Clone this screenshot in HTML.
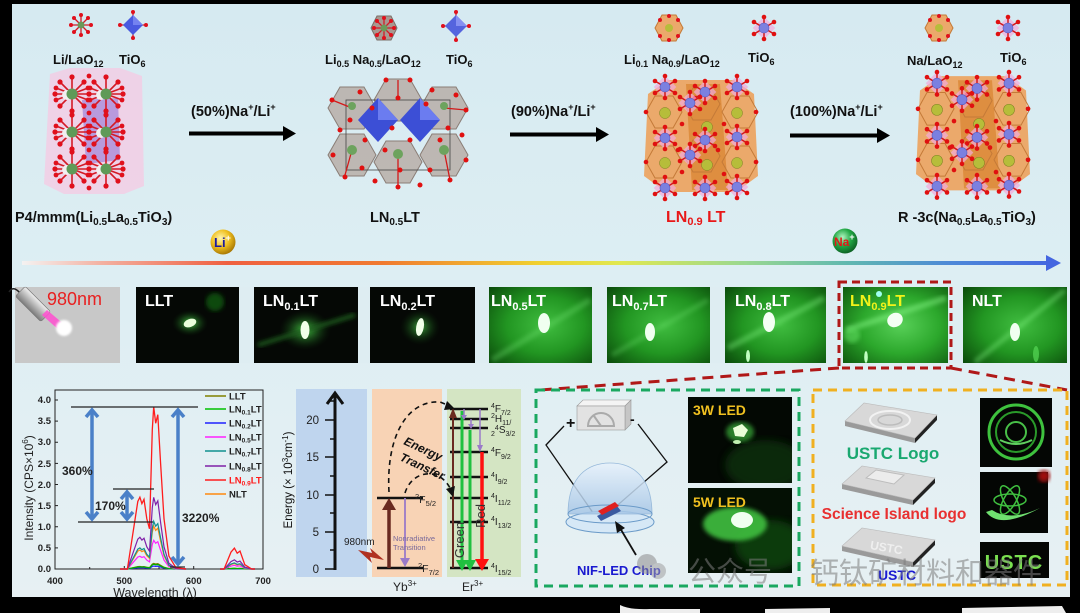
<!DOCTYPE html>
<html><head><meta charset="utf-8"><style>
html,body{margin:0;padding:0;background:#000;}
svg{display:block}
text{font-family:"Liberation Sans","Noto Sans CJK SC",sans-serif;}
.b{font-weight:bold}
</style></head><body>
<svg width="1080" height="613" viewBox="0 0 1080 613" xmlns="http://www.w3.org/2000/svg">
<defs>
 <linearGradient id="bg" x1="0" y1="0" x2="0" y2="1">
   <stop offset="0" stop-color="#d6eaf1"/>
   <stop offset="0.45" stop-color="#ddeef3"/>
   <stop offset="1" stop-color="#e7f0f3"/>
 </linearGradient>
 <linearGradient id="rainbow" x1="20" y1="0" x2="1055" y2="0" gradientUnits="userSpaceOnUse">
   <stop offset="0" stop-color="#f4f4f4"/>
   <stop offset="0.08" stop-color="#f3b0a0"/>
   <stop offset="0.2" stop-color="#ef6040"/>
   <stop offset="0.35" stop-color="#f07a30"/>
   <stop offset="0.5" stop-color="#f0d030"/>
   <stop offset="0.58" stop-color="#e0e850"/>
   <stop offset="0.7" stop-color="#9ad890"/>
   <stop offset="0.8" stop-color="#60b8b0"/>
   <stop offset="0.9" stop-color="#4d88d8"/>
   <stop offset="1" stop-color="#4466e0"/>
 </linearGradient>
 <radialGradient id="gold" cx="0.4" cy="0.35" r="0.7">
   <stop offset="0" stop-color="#fff6b0"/><stop offset="0.5" stop-color="#f0c020"/><stop offset="1" stop-color="#a07000"/>
 </radialGradient>
 <radialGradient id="grn" cx="0.4" cy="0.35" r="0.7">
   <stop offset="0" stop-color="#b0f5c0"/><stop offset="0.5" stop-color="#22a845"/><stop offset="1" stop-color="#0a5a20"/>
 </radialGradient>
 <radialGradient id="gtile" cx="0.55" cy="0.5" r="0.75">
   <stop offset="0" stop-color="#40bd40"/><stop offset="0.5" stop-color="#229622"/><stop offset="1" stop-color="#0a480a"/>
 </radialGradient>
 <radialGradient id="gtile2" cx="0.55" cy="0.5" r="0.75">
   <stop offset="0" stop-color="#58d058"/><stop offset="0.5" stop-color="#2ca82c"/><stop offset="1" stop-color="#0e580e"/>
 </radialGradient>
 <radialGradient id="glow" cx="0.5" cy="0.5" r="0.5">
   <stop offset="0" stop-color="#50e050" stop-opacity="0.9"/><stop offset="1" stop-color="#0a300a" stop-opacity="0"/>
 </radialGradient>
 <linearGradient id="pen" x1="0" y1="0" x2="0" y2="1">
   <stop offset="0" stop-color="#f0f0f0"/><stop offset="1" stop-color="#7a7a7a"/>
 </linearGradient>
 <linearGradient id="dome" x1="0" y1="0" x2="0" y2="1">
   <stop offset="0" stop-color="#e8f2fc"/><stop offset="1" stop-color="#a6c6e6"/>
 </linearGradient>
 <filter id="bl1"><feGaussianBlur stdDeviation="1"/></filter>
 <filter id="bl2"><feGaussianBlur stdDeviation="2"/></filter>
 <filter id="bl4"><feGaussianBlur stdDeviation="4"/></filter>
 <clipPath id="c3w"><rect x="688" y="397" width="104" height="86"/></clipPath>
 <clipPath id="c5w"><rect x="688" y="488" width="104" height="85"/></clipPath>
 <clipPath id="ctiles"><rect x="136" y="287" width="931" height="76"/></clipPath>
 <g id="ti">
   <rect x="-8" y="-8" width="16" height="16" transform="rotate(45)" fill="#f3a9dc" opacity="0.7"/>
   <g stroke="#d21a1a" stroke-width="1.5"><line x1="-10" y1="-6" x2="10" y2="6"/><line x1="-10" y1="6" x2="10" y2="-6"/><line x1="0" y1="-11" x2="0" y2="11"/></g>
   <g fill="#e01010"><circle cx="-10" cy="-6" r="2.3"/><circle cx="10" cy="6" r="2.3"/><circle cx="-10" cy="6" r="2.3"/><circle cx="10" cy="-6" r="2.3"/><circle cx="0" cy="-11" r="2.3"/><circle cx="0" cy="11" r="2.3"/></g>
   <circle r="5" fill="#7b80e0" stroke="#5a5ec0" stroke-width="0.6"/>
 </g>
 <g id="star">
   <g stroke="#d41a26" stroke-width="1.3"><line x1="-10" y1="0" x2="10" y2="0"/><line x1="0" y1="-10" x2="0" y2="10"/><line x1="-7" y1="-7" x2="7" y2="7"/><line x1="-7" y1="7" x2="7" y2="-7"/></g>
   <g fill="#e0101c"><circle cx="-10" cy="0" r="2"/><circle cx="10" cy="0" r="2"/><circle cx="0" cy="-10" r="2"/><circle cx="0" cy="10" r="2"/><circle cx="-7" cy="-7" r="2"/><circle cx="7" cy="7" r="2"/><circle cx="-7" cy="7" r="2"/><circle cx="7" cy="-7" r="2"/></g>
   <circle r="3.5" fill="#6a9a5a"/>
 </g>
 <g id="bigstar">
   <g stroke="#d41a26" stroke-width="1.6"><line x1="-17" y1="0" x2="17" y2="0"/><line x1="0" y1="-17" x2="0" y2="17"/><line x1="-12" y1="-12" x2="12" y2="12"/><line x1="-12" y1="12" x2="12" y2="-12"/><line x1="-16" y1="-6" x2="16" y2="6"/><line x1="-16" y1="6" x2="16" y2="-6"/></g>
   <g fill="#e0101c"><circle cx="-17" cy="0" r="2.6"/><circle cx="17" cy="0" r="2.6"/><circle cx="0" cy="-17" r="2.6"/><circle cx="0" cy="17" r="2.6"/><circle cx="-12" cy="-12" r="2.6"/><circle cx="12" cy="12" r="2.6"/><circle cx="-12" cy="12" r="2.6"/><circle cx="12" cy="-12" r="2.6"/><circle cx="-16" cy="-6" r="2.4"/><circle cx="16" cy="6" r="2.4"/><circle cx="-16" cy="6" r="2.4"/><circle cx="16" cy="-6" r="2.4"/></g>
   <circle cx="-5" cy="1" r="5" fill="#f2eef0"/>
   <circle r="5.5" fill="#5f9a58"/>
 </g>
 <g id="oc">
   <polygon points="6,22 26,8 92,8 112,22 116,104 94,120 24,120 2,104" fill="#eba96b"/>
   <polygon points="44,12 78,12 86,118 50,118" fill="#dc8a38" opacity="0.85"/>
   <g fill="none" stroke="#c47a38" stroke-width="1">
     <polygon points="4,40 13,24 31,24 40,40 31,56 13,56"/>
     <polygon points="42,32 51,16 69,16 78,32 69,48 51,48"/>
     <polygon points="80,40 89,24 107,24 116,40 107,56 89,56"/>
     <polygon points="4,90 13,74 31,74 40,90 31,106 13,106"/>
     <polygon points="42,84 51,68 69,68 78,84 69,100 51,100"/>
     <polygon points="80,90 89,74 107,74 116,90 107,106 89,106"/>
   </g>
   <g fill="#b6bd3a" stroke="#7a8020" stroke-width="0.5"><circle cx="23" cy="41" r="5.5"/><circle cx="65" cy="55" r="5.5"/><circle cx="95" cy="41" r="5.5"/><circle cx="23" cy="91" r="5.5"/><circle cx="65" cy="93" r="5.5"/><circle cx="95" cy="91" r="5.5"/></g>
   <use href="#ti" x="23" y="15"/><use href="#ti" x="63" y="20"/><use href="#ti" x="95" y="15"/>
   <use href="#ti" x="48" y="31"/>
   <use href="#ti" x="23" y="66"/><use href="#ti" x="63" y="68"/><use href="#ti" x="95" y="65"/>
   <use href="#ti" x="48" y="83"/>
   <use href="#ti" x="23" y="116"/><use href="#ti" x="63" y="116"/><use href="#ti" x="95" y="115"/>
   <g fill="#e01010"><circle cx="4" cy="40" r="2.3"/><circle cx="114" cy="40" r="2.3"/><circle cx="4" cy="90" r="2.3"/><circle cx="114" cy="90" r="2.3"/><circle cx="40" cy="52" r="2.3"/><circle cx="82" cy="52" r="2.3"/><circle cx="40" cy="100" r="2.3"/><circle cx="82" cy="102" r="2.3"/><circle cx="76" cy="78" r="2.3"/><circle cx="36" cy="78" r="2.3"/></g>
 </g>
</defs>

<!-- main panel -->
<rect x="12" y="4" width="1058" height="593" fill="url(#bg)"/>
<!-- bottom white bits -->
<path d="M620 605 Q630 610 650 609 L700 609 L700 613 L620 613 Z" fill="#eee"/>
<path d="M765 609 L830 608 L830 613 L765 613 Z" fill="#eee"/>
<path d="M962 608 L1062 606 L1066 613 L962 613 Z" fill="#eee"/>

<!-- ========== TOP: icons ========== -->
<use href="#star" x="81" y="25"/>
<g transform="translate(133,25)">
  <g stroke="#d41a26" stroke-width="1.3"><line x1="0" y1="-13" x2="0" y2="13"/><line x1="-13" y1="0" x2="13" y2="0"/></g>
  <polygon points="0,-10 10,0 0,10 -10,0" fill="#4a5ae0"/><polygon points="0,-10 10,0 0,0" fill="#7482f0"/>
  <g fill="#e0101c"><circle cx="0" cy="-13" r="2"/><circle cx="0" cy="13" r="2"/><circle cx="-13" cy="0" r="2"/><circle cx="13" cy="0" r="2"/></g>
</g>
<g transform="translate(384,28)">
  <polygon points="-13,0 -7,-12 7,-12 13,0 7,12 -7,12" fill="#a89890" stroke="#7a6e68"/>
  <use href="#star"/>
</g>
<g transform="translate(456,26)">
  <g stroke="#d41a26" stroke-width="1.3"><line x1="0" y1="-14" x2="0" y2="14"/><line x1="-13" y1="0" x2="13" y2="0"/></g>
  <polygon points="0,-11 11,0 0,11 -11,0" fill="#5564de"/><polygon points="0,-11 11,0 0,0" fill="#8690f2"/>
  <g fill="#e0101c"><circle cx="0" cy="-14" r="2"/><circle cx="0" cy="14" r="2"/><circle cx="-13" cy="0" r="2"/><circle cx="13" cy="0" r="2"/></g>
</g>
<g transform="translate(669,28)">
  <polygon points="-14,0 -7,-13 7,-13 14,0 7,13 -7,13" fill="#eba96b" stroke="#c47a38"/>
  <circle r="4" fill="#b6bd3a"/>
  <g fill="#e0101c"><circle cx="-9" cy="-8" r="2"/><circle cx="9" cy="-8" r="2"/><circle cx="-9" cy="8" r="2"/><circle cx="9" cy="8" r="2"/><circle cx="0" cy="-12" r="2"/><circle cx="0" cy="12" r="2"/></g>
</g>
<use href="#ti" x="764" y="28"/>
<g transform="translate(939,28)">
  <polygon points="-14,0 -7,-13 7,-13 14,0 7,13 -7,13" fill="#eba96b" stroke="#c47a38"/>
  <circle r="4" fill="#b6bd3a"/>
  <g fill="#e0101c"><circle cx="-9" cy="-8" r="2"/><circle cx="9" cy="-8" r="2"/><circle cx="-9" cy="8" r="2"/><circle cx="9" cy="8" r="2"/><circle cx="0" cy="-12" r="2"/><circle cx="0" cy="12" r="2"/></g>
</g>
<use href="#ti" x="1008" y="28"/>

<!-- top labels -->
<g class="b" font-size="13" fill="#111">
<text x="53" y="64">Li/LaO<tspan font-size="9" dy="3">12</tspan></text>
<text x="119" y="64">TiO<tspan font-size="9" dy="3">6</tspan></text>
<text x="325" y="64">Li<tspan font-size="9" dy="3">0.5</tspan><tspan dy="-3"> Na</tspan><tspan font-size="9" dy="3">0.5</tspan><tspan dy="-3">/LaO</tspan><tspan font-size="9" dy="3">12</tspan></text>
<text x="446" y="64">TiO<tspan font-size="9" dy="3">6</tspan></text>
<text x="624" y="64">Li<tspan font-size="9" dy="3">0.1</tspan><tspan dy="-3"> Na</tspan><tspan font-size="9" dy="3">0.9</tspan><tspan dy="-3">/LaO</tspan><tspan font-size="9" dy="3">12</tspan></text>
<text x="748" y="62">TiO<tspan font-size="9" dy="3">6</tspan></text>
<text x="907" y="65">Na/LaO<tspan font-size="9" dy="3">12</tspan></text>
<text x="1000" y="62">TiO<tspan font-size="9" dy="3">6</tspan></text>
</g>

<!-- crystal 1 -->
<g>
  <polygon points="50,74 70,68 120,68 142,76 144,186 124,194 64,194 44,184" fill="#f1cfe6" opacity="0.9"/>
  <polygon points="82,100 118,98 120,160 86,164" fill="#8a6cd6" opacity="0.55"/>
  <use href="#bigstar" x="72" y="94"/><use href="#bigstar" x="106" y="94"/>
  <use href="#bigstar" x="72" y="132"/><use href="#bigstar" x="106" y="132"/>
  <use href="#bigstar" x="72" y="169"/><use href="#bigstar" x="106" y="169"/>
  <g fill="#e0101c"><circle cx="89" cy="113" r="2.4"/><circle cx="89" cy="150" r="2.4"/><circle cx="89" cy="76" r="2.4"/><circle cx="89" cy="188" r="2.4"/></g>
</g>

<!-- crystal 2 -->
<g>
  <g fill="#b3a59e" fill-opacity="0.75" stroke="#8a7d76" stroke-width="1">
    <polygon points="328,108 340,87 364,87 376,108 364,129 340,129"/>
    <polygon points="374,100 386,79 410,79 422,100 410,121 386,121"/>
    <polygon points="420,108 432,87 456,87 468,108 456,129 432,129"/>
    <polygon points="328,155 340,134 364,134 376,155 364,176 340,176"/>
    <polygon points="374,162 386,141 410,141 422,162 410,183 386,183"/>
    <polygon points="420,155 432,134 456,134 468,155 456,176 432,176"/>
  </g>
  <rect x="346" y="100" width="104" height="70" fill="none" stroke="#444" stroke-width="0.8"/>
  <polygon points="378,98 398,120 378,142 358,120" fill="#3c4fd6"/><polygon points="378,98 398,120 378,120" fill="#6b7cf0"/>
  <polygon points="420,98 440,120 420,142 400,120" fill="#3c4fd6"/><polygon points="420,98 440,120 420,120" fill="#6b7cf0"/>
  <g stroke="#d21a1a" stroke-width="1.3"><line x1="332" y1="100" x2="352" y2="108"/><line x1="466" y1="110" x2="444" y2="108"/><line x1="345" y1="175" x2="352" y2="150"/><line x1="450" y1="180" x2="444" y2="150"/><line x1="398" y1="186" x2="398" y2="152"/><line x1="398" y1="80" x2="398" y2="100"/></g>
  <g fill="#6da35e"><circle cx="352" cy="150" r="5"/><circle cx="398" cy="154" r="5"/><circle cx="444" cy="150" r="5"/><circle cx="352" cy="106" r="4"/><circle cx="444" cy="106" r="4"/></g>
  <g fill="#e01010"><circle cx="332" cy="100" r="2.5"/><circle cx="340" cy="130" r="2.5"/><circle cx="333" cy="155" r="2.5"/><circle cx="345" cy="177" r="2.5"/><circle cx="360" cy="92" r="2.5"/><circle cx="386" cy="80" r="2.5"/><circle cx="410" cy="80" r="2.5"/><circle cx="432" cy="90" r="2.5"/><circle cx="456" cy="95" r="2.5"/><circle cx="466" cy="110" r="2.5"/><circle cx="462" cy="135" r="2.5"/><circle cx="466" cy="160" r="2.5"/><circle cx="450" cy="180" r="2.5"/><circle cx="420" cy="185" r="2.5"/><circle cx="398" cy="187" r="2.5"/><circle cx="375" cy="181" r="2.5"/><circle cx="362" cy="168" r="2.5"/><circle cx="365" cy="140" r="2.5"/><circle cx="392" cy="128" r="2.5"/><circle cx="410" cy="140" r="2.5"/><circle cx="430" cy="170" r="2.5"/><circle cx="448" cy="128" r="2.5"/><circle cx="372" cy="108" r="2.5"/><circle cx="426" cy="104" r="2.5"/><circle cx="350" cy="120" r="2.5"/><circle cx="440" cy="140" r="2.5"/><circle cx="400" cy="170" r="2.5"/><circle cx="385" cy="150" r="2.5"/><circle cx="398" cy="98" r="2.5"/></g>
</g>

<!-- crystals 3 & 4 -->
<use href="#oc" transform="translate(642,72)"/>
<use href="#oc" transform="translate(914,68) scale(1,1.02)"/>

<!-- arrows -->
<g fill="#000">
  <rect x="189" y="131.5" width="96" height="4"/><polygon points="283,126 296,133.5 283,141"/>
  <rect x="510" y="132.5" width="88" height="4"/><polygon points="596,127 609,134.5 596,142"/>
  <rect x="790" y="133.5" width="89" height="4"/><polygon points="877,128 890,135.5 877,143"/>
</g>
<g class="b" font-size="14.5" fill="#111">
<text x="191" y="116">(50%)Na<tspan font-size="9" dy="-6">+</tspan><tspan dy="6">/Li</tspan><tspan font-size="9" dy="-6">+</tspan></text>
<text x="511" y="116">(90%)Na<tspan font-size="9" dy="-6">+</tspan><tspan dy="6">/Li</tspan><tspan font-size="9" dy="-6">+</tspan></text>
<text x="790" y="116">(100%)Na<tspan font-size="9" dy="-6">+</tspan><tspan dy="6">/Li</tspan><tspan font-size="9" dy="-6">+</tspan></text>
</g>

<!-- bottom labels of top -->
<g class="b" font-size="14.5" fill="#111">
<text x="15" y="222">P4/mmm(Li<tspan font-size="10" dy="3">0.5</tspan><tspan dy="-3">La</tspan><tspan font-size="10" dy="3">0.5</tspan><tspan dy="-3">TiO</tspan><tspan font-size="10" dy="3">3</tspan><tspan dy="-3">)</tspan></text>
<text x="370" y="222">LN<tspan font-size="10" dy="3">0.5</tspan><tspan dy="-3">LT</tspan></text>
<text x="666" y="222" fill="#e81818" font-size="16">LN<tspan font-size="11" dy="3">0.9</tspan><tspan dy="-3"> LT</tspan></text>
<text x="898" y="222">R -3c(Na<tspan font-size="10" dy="3">0.5</tspan><tspan dy="-3">La</tspan><tspan font-size="10" dy="3">0.5</tspan><tspan dy="-3">TiO</tspan><tspan font-size="10" dy="3">3</tspan><tspan dy="-3">)</tspan></text>
</g>

<!-- ion balls -->
<circle cx="223" cy="242" r="12.5" fill="url(#gold)"/>
<text x="214" y="247" class="b" font-size="13" fill="#1a1aa0">Li<tspan font-size="9" dy="-6" fill="#fff">+</tspan></text>
<circle cx="845" cy="241" r="12.5" fill="url(#grn)"/>
<text x="834" y="246" class="b" font-size="12" fill="#e01818">Na<tspan font-size="9" dy="-6" fill="#fff">+</tspan></text>

<!-- gradient arrow -->
<rect x="22" y="261" width="1030" height="4" fill="url(#rainbow)"/>
<polygon points="1046,255 1061,263 1046,271" fill="#4466e0"/>

<!-- ========== MIDDLE TILES ========== -->
<!-- 980nm -->
<rect x="15" y="287" width="105" height="76" fill="#c8c8c8"/>
<path d="M20 293 C14 286 11 289 9 292" stroke="#222" stroke-width="1.5" fill="none"/>
<g transform="translate(33,304) rotate(45)">
  <rect x="-18" y="-7" width="36" height="14" rx="2" fill="url(#pen)" stroke="#777" stroke-width="0.6"/>
</g>
<polygon points="42,315 47,310 66,326 60,331" fill="#ff4fd0" opacity="0.85"/>
<circle cx="64" cy="328" r="8" fill="#fff" filter="url(#bl1)"/>
<text x="47" y="305" font-size="18" fill="#e82020">980nm</text>

<g clip-path="url(#ctiles)">
<!-- LLT -->
<rect x="136" y="287" width="103" height="76" fill="#050805"/>
<ellipse cx="190" cy="323" rx="18" ry="13" fill="url(#glow)"/>
<circle cx="215" cy="302" r="9" fill="#0f4a10" filter="url(#bl2)"/>
<ellipse cx="190" cy="323" rx="6.5" ry="4" transform="rotate(-20 190 323)" fill="#eaffdc"/>

<!-- LN0.1 -->
<rect x="254" y="287" width="104" height="76" fill="#050805"/>
<ellipse cx="305" cy="330" rx="26" ry="20" fill="url(#glow)"/>
<line x1="258" y1="345" x2="355" y2="315" stroke="#1a5a1a" stroke-width="4" filter="url(#bl2)"/>
<ellipse cx="305" cy="330" rx="4.5" ry="9" fill="#f0ffe8"/>

<!-- LN0.2 -->
<rect x="370" y="287" width="105" height="76" fill="#050805"/>
<ellipse cx="420" cy="327" rx="20" ry="18" fill="url(#glow)" opacity="0.8"/>
<ellipse cx="420" cy="327" rx="3.8" ry="9" transform="rotate(10 420 327)" fill="#f0ffe8"/>

<!-- green tiles -->
  <rect x="489" y="287" width="103" height="76" fill="url(#gtile)"/>
  <line x1="492" y1="360" x2="590" y2="300" stroke="#70e070" stroke-width="6" opacity="0.35" filter="url(#bl2)"/>
  <ellipse cx="544" cy="323" rx="6" ry="10" fill="#f0fff0"/>

  <rect x="607" y="287" width="103" height="76" fill="url(#gtile)"/>
  <line x1="612" y1="355" x2="708" y2="300" stroke="#70e070" stroke-width="5" opacity="0.3" filter="url(#bl2)"/>
  <ellipse cx="650" cy="332" rx="5" ry="9" fill="#f0fff0"/>

  <rect x="725" y="287" width="101" height="76" fill="url(#gtile)"/>
  <line x1="728" y1="348" x2="824" y2="298" stroke="#80f080" stroke-width="6" opacity="0.4" filter="url(#bl2)"/>
  <ellipse cx="769" cy="322" rx="6" ry="10" fill="#f4fff4"/>
  <ellipse cx="748" cy="356" rx="2" ry="6" fill="#c0ffc0"/>

  <rect x="843" y="287" width="105" height="76" fill="url(#gtile2)"/>
  <line x1="846" y1="330" x2="946" y2="298" stroke="#90ff90" stroke-width="6" opacity="0.45" filter="url(#bl2)"/>
  <circle cx="852" cy="335" r="8" fill="#60e060" opacity="0.6" filter="url(#bl2)"/>
  <ellipse cx="895" cy="320" rx="8" ry="7" transform="rotate(-30 895 320)" fill="#f4fff4"/>
  <circle cx="879" cy="294" r="3" fill="#a0fff0"/>
  <ellipse cx="866" cy="357" rx="1.8" ry="6" fill="#c0ffc0"/>

  <rect x="963" y="287" width="104" height="76" fill="url(#gtile)"/>
  <line x1="975" y1="362" x2="1065" y2="290" stroke="#80f080" stroke-width="5" opacity="0.4" filter="url(#bl2)"/>
  <ellipse cx="1015" cy="332" rx="5" ry="9" fill="#f0fff0"/>
  <ellipse cx="1036" cy="354" rx="3" ry="8" fill="#50d050" opacity="0.8"/>
</g>
<rect x="239" y="287" width="15" height="76" fill="#deedf2"/>
<rect x="358" y="287" width="12" height="76" fill="#deedf2"/>
<rect x="475" y="287" width="14" height="76" fill="#deedf2"/>
<rect x="592" y="287" width="15" height="76" fill="#deedf2"/>
<rect x="710" y="287" width="15" height="76" fill="#deedf2"/>
<rect x="826" y="287" width="17" height="76" fill="#deedf2"/>
<rect x="948" y="287" width="15" height="76" fill="#deedf2"/>
<g class="b" font-size="16" fill="#fff">
  <text x="145" y="306">LLT</text>
  <text x="263" y="306">LN<tspan font-size="11" dy="4">0.1</tspan><tspan dy="-4">LT</tspan></text>
  <text x="380" y="306">LN<tspan font-size="11" dy="4">0.2</tspan><tspan dy="-4">LT</tspan></text>
  <text x="491" y="306">LN<tspan font-size="11" dy="4">0.5</tspan><tspan dy="-4">LT</tspan></text>
  <text x="612" y="306">LN<tspan font-size="11" dy="4">0.7</tspan><tspan dy="-4">LT</tspan></text>
  <text x="735" y="306">LN<tspan font-size="11" dy="4">0.8</tspan><tspan dy="-4">LT</tspan></text>
  <text x="850" y="306" fill="#f2f21a">LN<tspan font-size="11" dy="4">0.9</tspan><tspan dy="-4">LT</tspan></text>
  <text x="972" y="306">NLT</text>
</g>

<!-- red dashed box + lines -->
<rect x="839" y="282" width="112" height="86" fill="none" stroke="#b01818" stroke-width="3" stroke-dasharray="8 5"/>
<line x1="839" y1="368" x2="540" y2="390" stroke="#b01818" stroke-width="3" stroke-dasharray="11 7"/>
<line x1="951" y1="368" x2="1067" y2="390" stroke="#b01818" stroke-width="3" stroke-dasharray="11 7"/>

<!-- ========== CHART ========== -->
<g>
  <rect x="55" y="390" width="208" height="179" fill="none" stroke="#222" stroke-width="1"/>
  <g stroke="#222" stroke-width="1">
    <line x1="55" y1="547.9" x2="58" y2="547.9"/><line x1="55" y1="526.75" x2="58" y2="526.75"/><line x1="55" y1="505.6" x2="58" y2="505.6"/><line x1="55" y1="484.5" x2="58" y2="484.5"/><line x1="55" y1="463.4" x2="58" y2="463.4"/><line x1="55" y1="442.25" x2="58" y2="442.25"/><line x1="55" y1="421.1" x2="58" y2="421.1"/><line x1="55" y1="400" x2="58" y2="400"/>
    <line x1="124.3" y1="569" x2="124.3" y2="566"/><line x1="193.7" y1="569" x2="193.7" y2="566"/><line x1="89.7" y1="569" x2="89.7" y2="567"/><line x1="159" y1="569" x2="159" y2="567"/><line x1="228.3" y1="569" x2="228.3" y2="567"/>
  </g>
  <g font-size="9.5" class="b" fill="#222" text-anchor="end">
    <text x="51" y="572">0.0</text><text x="51" y="551">0.5</text><text x="51" y="530">1.0</text><text x="51" y="509">1.5</text><text x="51" y="488">2.0</text><text x="51" y="467">2.5</text><text x="51" y="445">3.0</text><text x="51" y="424">3.5</text><text x="51" y="403">4.0</text>
  </g>
  <g font-size="9.5" class="b" fill="#222" text-anchor="middle">
    <text x="55" y="584">400</text><text x="124.3" y="584">500</text><text x="193.7" y="584">600</text><text x="263" y="584">700</text>
  </g>
  <text x="155" y="597" font-size="12.5" fill="#222" text-anchor="middle">Wavelength (λ)</text>
  <text transform="translate(33,488) rotate(-90)" font-size="12" fill="#222" text-anchor="middle">Intensity (CPS×10<tspan font-size="8" dy="-5">6</tspan><tspan dy="5">)</tspan></text>

  <g fill="none" stroke-width="1.2">
    <path d="M120 0 L127.4 0 L137.8 0.94 L139.9 1 L141.9 0.91 L144 0.97 L146.8 0.7 L149.5 0.56 L152.3 1.94 L153.7 2.26 L155.7 2.03 L157.8 2.15 L160.6 1.47 L164 0.7 L168.9 0.18 L175.8 0.02 L186 0 M220 0 L224.1 0 L231 0.235 L234.4 0.29 L237.2 0.22 L240 0.25 L244.8 0.06 L251.7 0 L255 0" stroke="#808000" vector-effect="non-scaling-stroke" transform="translate(0 569) scale(1 -2.5)"/>
    <path d="M120 0 L127.4 0 L137.8 0.94 L139.9 1 L141.9 0.91 L144 0.97 L146.8 0.7 L149.5 0.56 L152.3 1.94 L153.7 2.26 L155.7 2.03 L157.8 2.15 L160.6 1.47 L164 0.7 L168.9 0.18 L175.8 0.02 L186 0 M220 0 L224.1 0 L231 0.235 L234.4 0.29 L237.2 0.22 L240 0.25 L244.8 0.06 L251.7 0 L255 0" stroke="#2020ff" vector-effect="non-scaling-stroke" transform="translate(0 569) scale(1 -1.3)"/>
    <path d="M120 0 L127.4 0 L137.8 0.94 L139.9 1 L141.9 0.91 L144 0.97 L146.8 0.7 L149.5 0.56 L152.3 1.94 L153.7 2.26 L155.7 2.03 L157.8 2.15 L160.6 1.47 L164 0.7 L168.9 0.18 L175.8 0.02 L186 0 M220 0 L224.1 0 L231 0.235 L234.4 0.29 L237.2 0.22 L240 0.25 L244.8 0.06 L251.7 0 L255 0" stroke="#00b000" vector-effect="non-scaling-stroke" transform="translate(0 569) scale(1 -2.1)"/>
    <path d="M120 0 L127.4 0 L137.8 0.94 L139.9 1 L141.9 0.91 L144 0.97 L146.8 0.7 L149.5 0.56 L152.3 1.94 L153.7 2.26 L155.7 2.03 L157.8 2.15 L160.6 1.47 L164 0.7 L168.9 0.18 L175.8 0.02 L186 0 M220 0 L224.1 0 L231 0.235 L234.4 0.29 L237.2 0.22 L240 0.25 L244.8 0.06 L251.7 0 L255 0" stroke="#ff20ff" vector-effect="non-scaling-stroke" transform="translate(0 569) scale(1 -12.7)"/>
    <path d="M120 0 L127.4 0 L137.8 0.94 L139.9 1 L141.9 0.91 L144 0.97 L146.8 0.7 L149.5 0.56 L152.3 1.94 L153.7 2.26 L155.7 2.03 L157.8 2.15 L160.6 1.47 L164 0.7 L168.9 0.18 L175.8 0.02 L186 0 M220 0 L224.1 0 L231 0.235 L234.4 0.29 L237.2 0.22 L240 0.25 L244.8 0.06 L251.7 0 L255 0" stroke="#ff8a10" vector-effect="non-scaling-stroke" transform="translate(0 569) scale(1 -19)"/>
    <path d="M120 0 L127.4 0 L137.8 0.94 L139.9 1 L141.9 0.91 L144 0.97 L146.8 0.7 L149.5 0.56 L152.3 1.94 L153.7 2.26 L155.7 2.03 L157.8 2.15 L160.6 1.47 L164 0.7 L168.9 0.18 L175.8 0.02 L186 0 M220 0 L224.1 0 L231 0.235 L234.4 0.29 L237.2 0.22 L240 0.25 L244.8 0.06 L251.7 0 L255 0" stroke="#109090" vector-effect="non-scaling-stroke" transform="translate(0 569) scale(1 -21.1)"/>
    <path d="M120 0 L127.4 0 L137.8 0.94 L139.9 1 L141.9 0.91 L144 0.97 L146.8 0.7 L149.5 0.56 L152.3 1.94 L153.7 2.26 L155.7 2.03 L157.8 2.15 L160.6 1.47 L164 0.7 L168.9 0.18 L175.8 0.02 L186 0 M220 0 L224.1 0 L231 0.235 L234.4 0.29 L237.2 0.22 L240 0.25 L244.8 0.06 L251.7 0 L255 0" stroke="#8020a8" vector-effect="non-scaling-stroke" transform="translate(0 569) scale(1 -31.7)"/>
    <path d="M120 0 L127.4 0 L137.8 0.94 L139.9 1 L141.9 0.91 L144 0.97 L146.8 0.7 L149.5 0.56 L152.3 1.94 L153.7 2.26 L155.7 2.03 L157.8 2.15 L160.6 1.47 L164 0.7 L168.9 0.18 L175.8 0.02 L186 0 M220 0 L224.1 0 L231 0.235 L234.4 0.29 L237.2 0.22 L240 0.25 L244.8 0.06 L251.7 0 L255 0" stroke="#ff1c1c" stroke-width="1.3" vector-effect="non-scaling-stroke" transform="translate(0 569) scale(1 -71.8)"/>
  </g>
  <!-- reference lines -->
  <g stroke="#222" stroke-width="1.2">
    <line x1="71" y1="407" x2="198" y2="407"/><line x1="113" y1="489" x2="154" y2="489"/><line x1="78" y1="522" x2="153" y2="522"/><line x1="170" y1="567" x2="185" y2="567"/>
  </g>
  <g stroke="#4a80c8" stroke-width="3.5" fill="none">
    <line x1="92" y1="410" x2="92" y2="519"/><polyline points="86,417 92,410 98,417"/><polyline points="86,512 92,519 98,512"/>
    <line x1="127" y1="492" x2="127" y2="519"/><polyline points="121,499 127,492 133,499"/><polyline points="121,512 127,519 133,512"/>
    <line x1="178" y1="410" x2="178" y2="564"/><polyline points="172,417 178,410 184,417"/><polyline points="172,557 178,564 184,557"/>
  </g>
  <g class="b" font-size="12" fill="#222">
    <text x="62" y="475">360%</text><text x="95" y="510">170%</text><text x="182" y="522">3220%</text>
  </g>
  <!-- legend -->
  <g stroke-width="1.5">
    <line x1="205" y1="396" x2="226" y2="396" stroke="#808000"/>
    <line x1="205" y1="409" x2="226" y2="409" stroke="#00c000"/>
    <line x1="205" y1="423" x2="226" y2="423" stroke="#2020ff"/>
    <line x1="205" y1="437" x2="226" y2="437" stroke="#ff20ff"/>
    <line x1="205" y1="451" x2="226" y2="451" stroke="#109090"/>
    <line x1="205" y1="466" x2="226" y2="466" stroke="#8020a8"/>
    <line x1="205" y1="480" x2="226" y2="480" stroke="#ff1c1c"/>
    <line x1="205" y1="494" x2="226" y2="494" stroke="#ff8a10"/>
  </g>
  <g class="b" font-size="9.5" fill="#222">
    <text x="229" y="399.5">LLT</text>
    <text x="229" y="412.5">LN<tspan font-size="6.5" dy="2">0.1</tspan><tspan dy="-2">LT</tspan></text>
    <text x="229" y="426.5">LN<tspan font-size="6.5" dy="2">0.2</tspan><tspan dy="-2">LT</tspan></text>
    <text x="229" y="440.5">LN<tspan font-size="6.5" dy="2">0.5</tspan><tspan dy="-2">LT</tspan></text>
    <text x="229" y="454.5">LN<tspan font-size="6.5" dy="2">0.7</tspan><tspan dy="-2">LT</tspan></text>
    <text x="229" y="469.5">LN<tspan font-size="6.5" dy="2">0.8</tspan><tspan dy="-2">LT</tspan></text>
    <text x="229" y="483.5" fill="#ff1c1c">LN<tspan font-size="6.5" dy="2">0.9</tspan><tspan dy="-2">LT</tspan></text>
    <text x="229" y="497.5">NLT</text>
  </g>
</g>

<!-- ========== ENERGY DIAGRAM ========== -->
<g>
  <rect x="296" y="389" width="71" height="188" fill="#bfd5ee"/>
  <rect x="372" y="389" width="70" height="188" fill="#f8d3b5"/>
  <rect x="447" y="389" width="74" height="188" fill="#d4e5c3"/>
  <text transform="translate(292,480) rotate(-90)" font-size="11.5" fill="#111" text-anchor="middle">Energy (× 10<tspan font-size="8" dy="-4">3</tspan><tspan dy="4">cm</tspan><tspan font-size="8" dy="-4">-1</tspan><tspan dy="4">)</tspan></text>
  <line x1="335" y1="570" x2="335" y2="394" stroke="#111" stroke-width="3"/>
  <polyline points="327,404 335,393 343,404" fill="none" stroke="#111" stroke-width="3"/>
  <g stroke="#111" stroke-width="1.5">
    <line x1="325" y1="420" x2="335" y2="420"/><line x1="325" y1="457" x2="335" y2="457"/><line x1="325" y1="495" x2="335" y2="495"/><line x1="325" y1="532" x2="335" y2="532"/><line x1="325" y1="569" x2="335" y2="569"/>
    <line x1="330" y1="401" x2="335" y2="401"/><line x1="330" y1="439" x2="335" y2="439"/><line x1="330" y1="476" x2="335" y2="476"/><line x1="330" y1="513" x2="335" y2="513"/><line x1="330" y1="550" x2="335" y2="550"/>
  </g>
  <g font-size="11.5" fill="#222" text-anchor="end">
    <text x="319" y="424">20</text><text x="319" y="461">15</text><text x="319" y="499">10</text><text x="319" y="536">5</text><text x="319" y="573">0</text>
  </g>
  <g stroke="#111" stroke-width="2.5">
    <line x1="377" y1="498" x2="423" y2="498"/><line x1="377" y1="568" x2="423" y2="568"/>
  </g>
  <line x1="389" y1="568" x2="389" y2="508" stroke="#6a2a20" stroke-width="3.5"/>
  <polygon points="382,510 389,498 396,510" fill="#6a2a20"/>
  <line x1="405" y1="498" x2="405" y2="560" stroke="#9a7ac8" stroke-width="1.8"/>
  <polygon points="400,558 405,567 410,558" fill="#9a7ac8"/>
  <polygon points="358,550 372,553 370,548 384,560 370,557 372,563" fill="#b03020"/>
  <text x="344" y="545" font-size="10" fill="#222">980nm</text>
  <text x="393" y="541" font-size="7.5" fill="#7a6a9a">Nonradiative</text>
  <text x="393" y="550" font-size="7.5" fill="#7a6a9a">Transition</text>
  <text x="415" y="503" font-size="10.5" fill="#222"><tspan font-size="7.5" dy="-4">2</tspan><tspan dy="4">F</tspan><tspan font-size="7.5" dy="3">5/2</tspan></text>
  <text x="418" y="572" font-size="10.5" fill="#222"><tspan font-size="7.5" dy="-4">2</tspan><tspan dy="4">F</tspan><tspan font-size="7.5" dy="3">7/2</tspan></text>
  <g stroke="#111" stroke-width="2.5">
    <line x1="450" y1="409" x2="488" y2="409"/><line x1="450" y1="419" x2="488" y2="419"/><line x1="450" y1="428" x2="488" y2="428"/><line x1="450" y1="452" x2="488" y2="452"/><line x1="450" y1="477" x2="488" y2="477"/><line x1="450" y1="498" x2="488" y2="498"/><line x1="450" y1="522" x2="488" y2="522"/><line x1="450" y1="568" x2="488" y2="568"/>
  </g>
  <line x1="453" y1="568" x2="453" y2="416" stroke="#6a2a20" stroke-width="2"/>
  <polygon points="449,418 453,408 457,418" fill="#6a2a20"/>
  <g stroke="#20c040" stroke-width="3">
    <line x1="462" y1="411" x2="462" y2="562"/><line x1="470" y1="430" x2="470" y2="562"/>
  </g>
  <polygon points="456,560 462,571 468,560" fill="#20c040"/><polygon points="464,560 470,571 476,560" fill="#20c040"/>
  <line x1="482" y1="452" x2="482" y2="561" stroke="#ff1010" stroke-width="3.5"/>
  <polygon points="475,559 482,571 489,559" fill="#ff1010"/>
  <g stroke="#9a7ac8" stroke-width="1.5"><line x1="464" y1="409" x2="464" y2="416"/><line x1="471" y1="419" x2="471" y2="425"/><line x1="480" y1="409" x2="480" y2="446"/></g>
  <g fill="#9a7ac8"><polygon points="461,415 464,420 467,415"/><polygon points="468,424 471,429 474,424"/><polygon points="477,445 480,452 483,445"/></g>
  <text transform="translate(464,540) rotate(-90)" font-size="13" fill="#333" text-anchor="middle">Green</text>
  <text transform="translate(485,516) rotate(-90)" font-size="13" fill="#333" text-anchor="middle">Red</text>
  <g font-size="10" fill="#222">
    <text x="491" y="412"><tspan font-size="7" dy="-4">4</tspan><tspan dy="4">F</tspan><tspan font-size="7" dy="3">7/2</tspan></text>
    <text x="491" y="422"><tspan font-size="7" dy="-4">2</tspan><tspan dy="4">H</tspan><tspan font-size="7" dy="3">11/</tspan></text>
    <text x="491" y="433"><tspan font-size="7" dy="3">2</tspan><tspan font-size="7" dy="-6">4</tspan><tspan dy="3">S</tspan><tspan font-size="7" dy="3">3/2</tspan></text>
    <text x="491" y="456"><tspan font-size="7" dy="-4">4</tspan><tspan dy="4">F</tspan><tspan font-size="7" dy="3">9/2</tspan></text>
    <text x="491" y="481"><tspan font-size="7" dy="-4">4</tspan><tspan dy="4">I</tspan><tspan font-size="7" dy="3">9/2</tspan></text>
    <text x="491" y="502"><tspan font-size="7" dy="-4">4</tspan><tspan dy="4">I</tspan><tspan font-size="7" dy="3">11/2</tspan></text>
    <text x="491" y="525"><tspan font-size="7" dy="-4">4</tspan><tspan dy="4">I</tspan><tspan font-size="7" dy="3">13/2</tspan></text>
    <text x="491" y="572"><tspan font-size="7" dy="-4">4</tspan><tspan dy="4">I</tspan><tspan font-size="7" dy="3">15/2</tspan></text>
  </g>
  <path d="M389 492 C386 440 405 400 440 402 L450 406" fill="none" stroke="#111" stroke-width="1.6" stroke-dasharray="5 4"/>
  <polygon points="447,401 455,409 444,410" fill="#111"/>
  <path d="M405 493 C412 470 440 466 451 490" fill="none" stroke="#111" stroke-width="1.6" stroke-dasharray="5 4"/>
  <polygon points="446,489 453,497 455,486" fill="#111"/>
  <text transform="translate(403,444) rotate(25)" font-size="12" class="b" font-style="italic" fill="#111">Energy</text>
  <text transform="translate(399,460) rotate(25)" font-size="12" class="b" font-style="italic" fill="#111">Transfer</text>
  <text x="393" y="591" font-size="12" fill="#222">Yb<tspan font-size="8" dy="-5">3+</tspan></text>
  <text x="462" y="591" font-size="12" fill="#222">Er<tspan font-size="8" dy="-5">3+</tspan></text>
</g>

<!-- ========== LED PANEL ========== -->
<rect x="536" y="390" width="263" height="196" fill="none" stroke="#1aa860" stroke-width="3" stroke-dasharray="9 6"/>
<g>
  <polygon points="577,406 583,400 631,400 625,406" fill="#f4f4f4" stroke="#999" stroke-width="0.6"/>
  <polygon points="625,406 631,400 631,424 625,430" fill="#c6c6c6" stroke="#999" stroke-width="0.6"/>
  <rect x="577" y="406" width="48" height="24" fill="#e2e2e2" stroke="#999" stroke-width="0.6"/>
  <path d="M588 426 A13 13 0 0 1 614 426 Z" fill="none" stroke="#aaa" stroke-width="2"/>
  <line x1="601" y1="426" x2="594" y2="416" stroke="#aaa" stroke-width="2"/>
  <text x="566" y="428" class="b" font-size="16" fill="#111">+</text>
  <text x="630" y="424" class="b" font-size="14" fill="#111">-</text>
  <polyline points="564,426 546,445 598,520" fill="none" stroke="#111" stroke-width="1.3"/>
  <polyline points="638,424 667,462 612,510" fill="none" stroke="#111" stroke-width="1.3"/>
  <ellipse cx="610" cy="522" rx="44" ry="11" fill="#d6e8f6" stroke="#6a9ac8" stroke-width="1"/>
  <path d="M568 514 C568 476 588 463 610 463 C634 463 652 478 652 514 Z" fill="url(#dome)" opacity="0.85" stroke="#8ab0d6" stroke-width="0.8"/>
  <ellipse cx="610" cy="514" rx="42" ry="9" fill="none" stroke="#6a9ac8" stroke-width="1"/>
  <polygon points="597,516 617,506 621,511 601,521" fill="#3a5aa0"/>
  <polygon points="598,511 615,502 619,506 602,515" fill="#e02020"/>
  <line x1="636" y1="555" x2="620" y2="528" stroke="#111" stroke-width="1.8"/>
  <polygon points="615,521 617,533 625,528" fill="#111"/>
  <text x="577" y="575" class="b" font-size="13" fill="#1a1ad0">NIF-LED Chip</text>
  <!-- 3W -->
  <g clip-path="url(#c3w)">
    <rect x="688" y="397" width="104" height="86" fill="#030803"/>
    <ellipse cx="765" cy="465" rx="40" ry="25" fill="#0c300c" opacity="0.8" filter="url(#bl4)"/>
    <ellipse cx="740" cy="432" rx="14" ry="10" fill="#3ab03a" opacity="0.7" filter="url(#bl2)"/>
    <polygon points="733,428 742,424 748,430 744,437 735,436" fill="#eaffd8"/>
    <ellipse cx="737" cy="442" rx="4" ry="2" fill="#c0f0b0"/>
  </g>
  <text x="693" y="415" class="b" font-size="14" fill="#f0c020">3W LED</text>
  <!-- 5W -->
  <g clip-path="url(#c5w)">
    <rect x="688" y="488" width="104" height="85" fill="#041004"/>
    <ellipse cx="770" cy="545" rx="35" ry="25" fill="#0f400f" opacity="0.9" filter="url(#bl4)"/>
    <ellipse cx="735" cy="524" rx="32" ry="17" fill="#40c040" opacity="0.9" filter="url(#bl2)"/>
    <ellipse cx="742" cy="520" rx="11" ry="8" fill="#f0fff0"/>
  </g>
  <text x="693" y="507" class="b" font-size="14" fill="#f0c020">5W LED</text>
</g>

<!-- ========== LOGO PANEL ========== -->
<rect x="813" y="390" width="254" height="195" fill="none" stroke="#f0b020" stroke-width="3" stroke-dasharray="9 6"/>
<g>
  <polygon points="845,421 915,438 915,443 845,426" fill="#9a9a9a"/>
  <polygon points="915,438 937,415 937,420 915,443" fill="#222"/>
  <polygon points="845,421 864,403 937,415 915,438" fill="#d8d8d8" stroke="#bbb" stroke-width="0.6"/>
  <ellipse cx="890" cy="420" rx="20" ry="9" fill="none" stroke="#f2f2f2" stroke-width="2"/>
  <ellipse cx="890" cy="420" rx="12" ry="5" fill="none" stroke="#bcbcbc" stroke-width="1.5"/>
  <text x="893" y="459" text-anchor="middle" class="b" font-size="17" fill="#1aa870">USTC Logo</text>
  <polygon points="842,484 913,500 913,505 842,489" fill="#9a9a9a"/>
  <polygon points="913,500 935,478 935,483 913,505" fill="#222"/>
  <polygon points="842,484 862,466 935,478 913,500" fill="#d8d8d8" stroke="#bbb" stroke-width="0.6"/>
  <polygon points="866,478 876,470 904,475 894,484" fill="#ececec" stroke="#bdbdbd" stroke-width="1"/>
  <text x="894" y="519" text-anchor="middle" class="b" font-size="15.5" fill="#e83030">Science Island logo</text>
  <polygon points="842,546 913,562 913,567 842,551" fill="#9a9a9a"/>
  <polygon points="913,562 935,540 935,545 913,567" fill="#222"/>
  <polygon points="842,546 862,528 935,540 913,562" fill="#d8d8d8" stroke="#bbb" stroke-width="0.6"/>
  <text x="870" y="552" font-size="12" fill="#efefef" transform="rotate(10 888 548)" class="b">USTC</text>
  <text x="897" y="580" text-anchor="middle" class="b" font-size="14" fill="#1a1ad0">USTC</text>
  <rect x="980" y="398" width="72" height="69" fill="#040604"/>
  <circle cx="1016" cy="432" r="27" fill="none" stroke="#3ec23e" stroke-width="3"/>
  <circle cx="1016" cy="432" r="20" fill="none" stroke="#2a9a2a" stroke-width="2"/>
  <circle cx="1016" cy="432" r="10" fill="none" stroke="#48c048" stroke-width="2"/>
  <path d="M1000 440 Q1016 448 1032 440" stroke="#60d060" stroke-width="2" fill="none"/>
  <rect x="980" y="472" width="68" height="61" fill="#040604"/>
  <circle cx="1044" cy="476" r="6" fill="#a01010" filter="url(#bl2)"/>
  <g fill="none" stroke="#40c040" stroke-width="1.5">
    <ellipse cx="1010" cy="500" rx="16" ry="6"/><ellipse cx="1010" cy="500" rx="16" ry="6" transform="rotate(60 1010 500)"/><ellipse cx="1010" cy="500" rx="16" ry="6" transform="rotate(-60 1010 500)"/>
  </g>
  <path d="M986 512 Q1000 530 1040 508 Q1010 522 992 510 Z" fill="#70e070"/>
  <rect x="980" y="542" width="69" height="36" fill="#040604"/>
  <text x="1014" y="569" text-anchor="middle" class="b" font-size="20" fill="#7ae050" letter-spacing="1">USTC</text>
</g>

<!-- watermark -->
<g opacity="0.55">
  <circle cx="647" cy="564" r="10" fill="#8c8c8c"/>
  <circle cx="658" cy="571" r="8" fill="#a0a0a0"/>
  <text x="688" y="581" font-size="28" fill="#7c7c7c">公众号</text>
  <text x="810" y="583" font-size="29" fill="#7c7c7c">钙钛矿材料和器件</text>
</g>
</svg>
</body></html>
